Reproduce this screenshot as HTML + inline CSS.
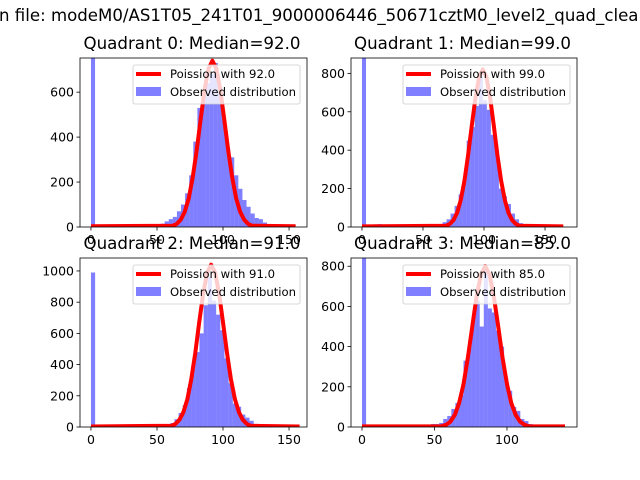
<!DOCTYPE html>
<html><head><meta charset="utf-8"><style>
body{margin:0;background:#fff;}
svg{display:block;font-family:"DejaVu Sans","Liberation Sans",sans-serif;}
</style></head><body>
<svg id="fig" width="640" height="480" viewBox="0 0 640 480">
<text x="-1" y="21" font-size="16.5" textLength="650" lengthAdjust="spacingAndGlyphs">n file: modeM0/AS1T05_241T01_9000006446_50671cztM0_level2_quad_clean</text>
</svg>
<script>
// ---- data ----
const titles = ["Quadrant 0: Median=92.0","Quadrant 1: Median=99.0","Quadrant 2: Median=91.0","Quadrant 3: Median=85.0"];
const legendLabels = ["Poission with 92.0","Poission with 99.0","Poission with 91.0","Poission with 85.0"];
const binWidths = [3.1, 3.3, 3.16, 2.8];
const counts0 = [1000,4,5,4,6,5,4,5,4,3,4,3,3,4,4,5,8,15,25,35,45,70,100,150,230,380,530,590,640,680,730,600,480,350,310,230,170,120,90,60,40,35,20,12,8,3,3,3,3,3];
const counts1 = [1000,8,10,14,15,12,10,10,8,8,6,6,5,5,5,6,6,8,10,15,25,40,70,110,170,250,450,520,630,780,660,610,480,400,200,160,120,70,40,20,10,3,3,3,3,3,3,3,3,3];
const counts2 = [990,1,1,1,1,1,1,1,1,1,1,1,1,1,1,2,10,12,15,25,50,90,140,250,390,480,600,780,960,810,720,620,440,280,150,130,80,60,40,20,10,2,2,2,2,2,2,2,2,2];
const counts3 = [900,1,1,1,1,1,1,1,1,1,1,1,1,1,1,2,5,15,15,20,40,55,90,120,160,330,400,550,630,500,780,590,570,480,400,240,180,100,80,40,30,15,10,2,2,2,2,2,2,2];
const curveX0 = [0,62,65,68,71,74,77,80,83,86,89,92,95,98,101,104,107,110,113,116,119,122,155];
const curveY0 = [3,6,14,33,67,127,218,338,477,608,704,740,704,608,477,338,218,127,67,33,14,6,3];
const curveX1 = [0,69,72,75,78,81,84,87,90,93,96,99,102,105,108,111,114,117,120,123,126,129,165];
const curveY1 = [3,6,16,36,75,141,242,375,528,674,781,820,781,674,528,375,242,141,75,36,16,6,3];
const curveX2 = [0,61,64,67,70,73,76,79,82,85,88,91,94,97,100,103,106,109,112,115,118,121,158];
const curveY2 = [3,8,20,46,95,179,307,475,670,855,990,1040,990,855,670,475,307,179,95,46,20,8,3];
const curveX3 = [0,55,58,61,64,67,70,73,76,79,82,85,88,91,94,97,100,103,106,109,112,115,140];
const curveY3 = [3,4,11,27,60,119,213,343,497,647,758,800,758,647,497,343,213,119,60,27,11,4,3];
const xTicks0 = [0,50,100,150], xTicks1 = [0,50,100,150], xTicks2 = [0,50,100,150], xTicks3 = [0,50,100];
const yTicks0 = [0,200,400,600], yTicks1 = [0,200,400,600,800], yTicks2 = [0,200,400,600,800,1000], yTicks3 = [0,200,400,600,800];
const xLims = [[-8.3,163.6],[-9.0,176.2],[-8.3,163.6],[-7.6,148.3]];
const yLims = [[0,752],[0,880],[0,1083],[0,841]];

const allCounts=[counts0,counts1,counts2,counts3];
const allCX=[curveX0,curveX1,curveX2,curveX3], allCY=[curveY0,curveY1,curveY2,curveY3];
const allXT=[xTicks0,xTicks1,xTicks2,xTicks3], allYT=[yTicks0,yTicks1,yTicks2,yTicks3];
const boxes=[[80,58,307,227],[351,58,577,227],[80,258,307,427],[351,258,577,427]];
const NS="http://www.w3.org/2000/svg";
const svg=document.getElementById('fig');
function mk(tag,attrs,parent){const e=document.createElementNS(NS,tag);for(const k in attrs)e.setAttribute(k,attrs[k]);(parent||svg).appendChild(e);return e;}

for(let q=0;q<4;q++){
  const [L,T,R,B]=boxes[q];
  const [x0,x1]=xLims[q],[y0,y1]=yLims[q];
  const sx=v=>L+(v-x0)/(x1-x0)*(R-L);
  const sy=v=>B-(v-y0)/(y1-y0)*(B-T);
  const g=mk('g',{});
  
  
  const cid='clip'+q;
  const cp=mk('clipPath',{id:cid},g);mk('rect',{x:L,y:T,width:R-L,height:B-T},cp);
  const plot=mk('g',{'clip-path':'url(#'+cid+')'},g);
  const bw=binWidths[q];
  allCounts[q].forEach((c,i)=>{
    const r=mk('rect',{x:sx(i*bw),y:sy(c),width:sx((i+1)*bw)-sx(i*bw),height:sy(0)-sy(c),fill:'#0000ff','fill-opacity':0.5},plot);
    
    
  });
  const pts=allCX[q].map((x,i)=>sx(x).toFixed(1)+','+sy(allCY[q][i]).toFixed(1)).join(' ');
  const pl=mk('polyline',{points:pts,fill:'none',stroke:'#ff0000','stroke-width':4,'stroke-linejoin':'round'},plot);
  
  
  const fr=mk('rect',{x:L,y:T,width:R-L,height:B-T,fill:'none',stroke:'#000','stroke-width':0.8},g);
  
  
  allXT[q].forEach(t=>{
    const x=sx(t);
    mk('line',{x1:x,y1:B,x2:x,y2:B+3.5,stroke:'#000','stroke-width':0.8},g);
    const tx=mk('text',{x:x,y:B+17,'text-anchor':'middle','font-size':12.5},g);tx.textContent=t;
    
    
  });
  allYT[q].forEach(t=>{
    const y=sy(t);
    mk('line',{x1:L-3.5,y1:y,x2:L,y2:y,stroke:'#000','stroke-width':0.8},g);
    const tx=mk('text',{x:L-6,y:y+4.5,'text-anchor':'end','font-size':12.5},g);tx.textContent=t;
    
    
  });
  const ti=mk('text',{x:(L+R)/2-110,y:T-9,'font-size':16.5,textLength:217,lengthAdjust:'spacingAndGlyphs'},g);ti.textContent=titles[q];
  
  
  // legend
  const lg=mk('g',{},g);
  
  
  const lx=R-174,ly=T+7;
  mk('rect',{x:lx,y:ly,width:167,height:39,rx:2,fill:'#fff','fill-opacity':0.8,stroke:'#ccc','stroke-width':0.8},lg);
  mk('line',{x1:lx+3,y1:ly+9,x2:lx+28,y2:ly+9,stroke:'#ff0000','stroke-width':4},lg);
  const t1=mk('text',{x:lx+37,y:ly+13,'font-size':11.5,textLength:105,lengthAdjust:'spacingAndGlyphs'},lg);t1.textContent=legendLabels[q];
  
  
  mk('rect',{x:lx+3,y:ly+22,width:25,height:9,fill:'#0000ff','fill-opacity':0.5},lg);
  const t2=mk('text',{x:lx+37,y:ly+31,'font-size':11.5,textLength:126,lengthAdjust:'spacingAndGlyphs'},lg);t2.textContent='Observed distribution';
  
  
}
</script>
</body></html>
